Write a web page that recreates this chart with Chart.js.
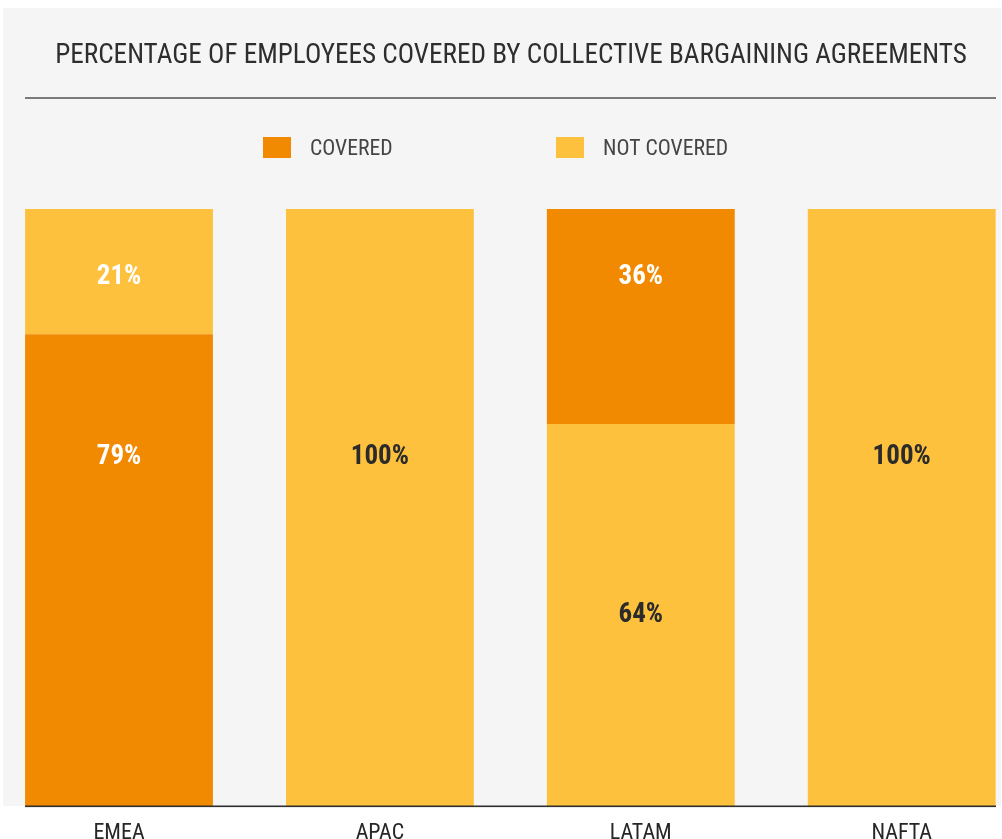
<!DOCTYPE html>
<html>
<head>
<meta charset="utf-8">
<script src="https://cdn.jsdelivr.net/npm/chart.js@4.4.1/dist/chart.umd.min.js"></script>
<style>
  html, body { margin: 0; padding: 0; background: #ffffff; }
  #wrap { position: relative; width: 1002px; height: 839px; }
  canvas { display: block; }
</style>
</head>
<body>
<div id="wrap"><canvas id="chart" width="1002" height="839"></canvas></div>
<script>
// Share of employees covered by collective bargaining agreements, by region (%)
const regions = ['EMEA', 'APAC', 'LATAM', 'NAFTA'];
const coveredPct = [79, 0, 36, 0];
const notCoveredPct = [21, 100, 64, 100];
// Regions where the covered share is stacked above the uncovered share
const coveredOnTop = ['LATAM'];

const chartTitle = 'PERCENTAGE OF EMPLOYEES COVERED BY COLLECTIVE BARGAINING AGREEMENTS';

const ORANGE = '#F18A00';
const YELLOW = '#FDC13D';
const FONT = "'Roboto Condensed', 'Liberation Sans Narrow', 'DejaVu Sans Condensed', Roboto, sans-serif";

const orNull = v => (v ? v : null);

const datasets = [
  {
    label: 'COVERED', key: 'covered', inLegend: true,
    data: regions.map((r, i) => coveredOnTop.includes(r) ? null : orNull(coveredPct[i])),
    backgroundColor: ORANGE
  },
  {
    label: 'NOT COVERED', key: 'notCovered', inLegend: true,
    data: notCoveredPct.map(orNull),
    backgroundColor: YELLOW
  },
  {
    label: 'COVERED', key: 'covered', inLegend: false,
    data: regions.map((r, i) => coveredOnTop.includes(r) ? orNull(coveredPct[i]) : null),
    backgroundColor: ORANGE
  }
];

// Panel background, title with its rule, legend and baseline
const framePlugin = {
  id: 'frame',
  beforeDraw(chart, args, opts) {
    const { ctx, width, height } = chart;
    ctx.save();
    ctx.fillStyle = '#ffffff';
    ctx.fillRect(0, 0, width, height);
    ctx.fillStyle = '#f5f5f5';
    ctx.fillRect(3, 8, 998, 798);

    // title
    ctx.font = `normal 27.2px ${FONT}`;
    ctx.fillStyle = '#2e2e2e';
    ctx.textAlign = 'center';
    ctx.textBaseline = 'middle';
    ctx.fillText(opts.title, 511, 56);

    // rule below the title
    ctx.fillStyle = '#7a7a7a';
    ctx.fillRect(25, 97, 971, 2);

    // legend
    const items = chart.data.datasets.filter(d => d.inLegend);
    ctx.font = `normal 21.7px ${FONT}`;
    ctx.textAlign = 'left';
    items.forEach((d, i) => {
      const x = 263 + i * 293;
      ctx.fillStyle = d.backgroundColor;
      ctx.fillRect(x, 137, 28, 21);
      ctx.fillStyle = '#454545';
      ctx.fillText(d.label, x + 47, 149.5);
    });
    ctx.restore();
  },
  afterDatasetsDraw(chart) {
    const { ctx } = chart;
    const y = chart.scales.y.getPixelForValue(0);
    ctx.save();
    ctx.fillStyle = '#2f2f2f';
    ctx.fillRect(25, y - 0.5, 971, 1.6);
    ctx.restore();
  }
};

// Percentage labels written inside each bar segment
const valueLabelPlugin = {
  id: 'valueLabels',
  afterDatasetsDraw(chart, args, opts) {
    const { ctx } = chart;
    const yScale = chart.scales.y;
    ctx.save();
    ctx.font = `bold 27px ${FONT}`;
    ctx.textAlign = 'center';
    ctx.textBaseline = 'middle';
    chart.data.datasets.forEach((ds, di) => {
      const meta = chart.getDatasetMeta(di);
      ds.data.forEach((v, j) => {
        if (v == null) return;
        const el = meta.data[j];
        const anchor = opts.anchors[ds.key][j];
        ctx.fillStyle = opts.colors[ds.key][j];
        ctx.fillText(v + '%', el.x, yScale.getPixelForValue(anchor));
      });
    });
    ctx.restore();
  }
};

new Chart(document.getElementById('chart'), {
  type: 'bar',
  data: { labels: regions, datasets },
  plugins: [framePlugin, valueLabelPlugin],
  options: {
    responsive: false,
    animation: false,
    devicePixelRatio: 1,
    layout: { padding: { top: 209, left: 119, right: 100.3, bottom: 0 } },
    datasets: {
      bar: {
        clip: false,
        borderWidth: 0,
        categoryPercentage: 1,
        barPercentage: 0.72
      }
    },
    scales: {
      x: {
        stacked: true,
        offset: false,
        grid: { display: false, drawTicks: false, tickLength: 0 },
        border: { display: false },
        ticks: {
          color: '#262626',
          font: { family: FONT, size: 22 },
          padding: 14,
          maxRotation: 0,
          autoSkip: false
        },
        afterFit(scale) { scale.height = 33; }
      },
      y: {
        stacked: true,
        display: false,
        min: 0,
        max: 100
      }
    },
    plugins: {
      legend: { display: false },
      title: { display: false },
      tooltip: { enabled: false },
      frame: { title: chartTitle },
      valueLabels: {
        anchors: {
          covered:    [58.5, null, 88.5, null],
          notCovered: [88.5, 58.5, 32, 58.5]
        },
        colors: {
          covered:    ['#ffffff', '#ffffff', '#ffffff', '#ffffff'],
          notCovered: ['#ffffff', '#2b2b2b', '#2b2b2b', '#2b2b2b']
        }
      }
    }
  }
});
</script>
</body>
</html>
